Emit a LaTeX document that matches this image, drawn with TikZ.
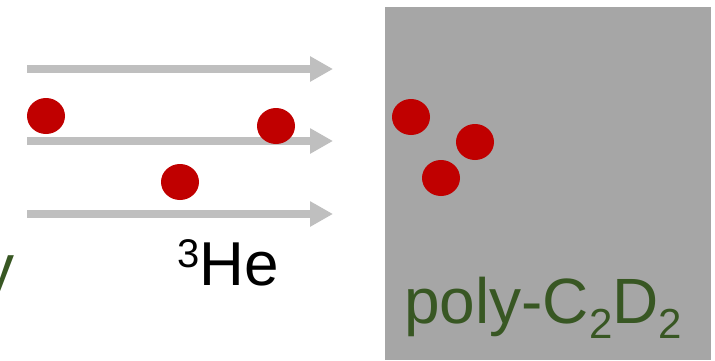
\documentclass[tikz,border=0pt]{standalone}
\usepackage{fontspec}
\setmainfont{Liberation Sans}
\usetikzlibrary{arrows.meta,shapes.geometric}
\definecolor{beamgray}{HTML}{BFBFBF}
\definecolor{targetgray}{HTML}{A6A6A6}
\definecolor{dotred}{HTML}{C00000}
\definecolor{labelgreen}{HTML}{385723}
\begin{document}
\begin{tikzpicture}[x=1pt,y=-1pt,
  beam/.style={draw=beamgray,line width=8pt,-{Triangle[width=24pt,length=23pt]}},
  particle/.style={ellipse,fill=dotred,minimum width=38pt,minimum height=36pt,inner sep=0pt},
  hetext/.style={inner sep=0pt,font=\fontsize{62}{62}\selectfont},
  greentext/.style={inner sep=0pt,text=labelgreen,font=\fontsize{64}{64}\selectfont}]
\useasboundingbox (0,0) rectangle (715,360);
% target slab
\fill[targetgray] (385,7) rectangle (711,360);
% incoming beam lines
\foreach \n/\yy in {a/69,b/141,c/214}{
  \coordinate (\n0) at (27,\yy);
  \coordinate (\n1) at (333,\yy);
  \draw[beam] (\n0) -- (\n1);
}
% particles
\node[particle] (p1) at (46,116) {};
\node[particle] (p2) at (276,126) {};
\node[particle] (p3) at (180,182) {};
\node[particle] (p4) at (411,117) {};
\node[particle] (p5) at (475,142) {};
\node[particle] (p6) at (441,178) {};
% labels
\node[hetext,anchor=base west] (he) at (177,285)
  {\raisebox{18pt}{\fontsize{40}{40}\selectfont 3}He};
\node[greentext,anchor=base west] (poly) at (404,323)
  {poly-C\raisebox{-15pt}{\fontsize{42}{42}\selectfont 2}D\raisebox{-15pt}{\fontsize{42}{42}\selectfont 2}};
\node[greentext,anchor=base east] (ey) at (15,289) {y};
\end{tikzpicture}
\end{document}
